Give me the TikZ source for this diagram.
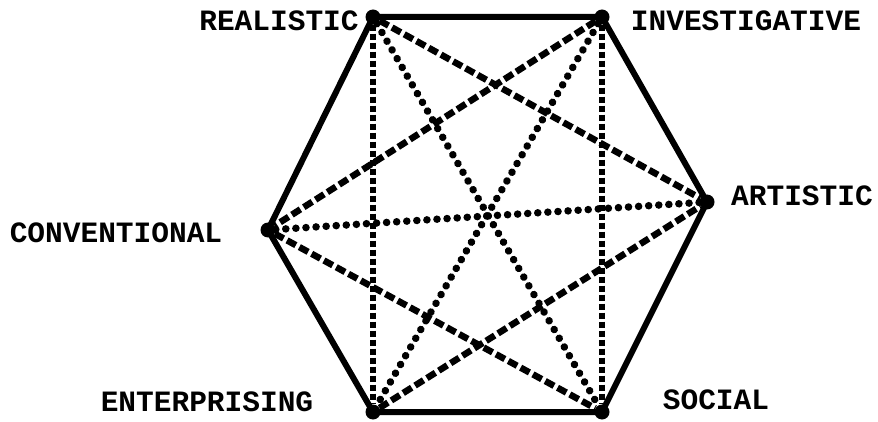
\documentclass[tikz,border=0pt]{standalone}
\usepackage{fontspec}
\setmonofont{Liberation Mono}
\begin{document}
\begin{tikzpicture}[
  x=1pt, y=-1pt,
  vtx/.style={circle, fill, minimum size=15pt, inner sep=0pt},
  lbl/.style={font=\ttfamily\bfseries\fontsize{29.5}{31}\selectfont, inner sep=0pt},
  side/.style={line width=6pt},
  nearpair/.style={line width=6.5pt, dash pattern=on 10pt off 4pt},
  upright/.style={line width=6pt, dash pattern=on 6pt off 3pt},
  farpair/.style={line width=7.5pt, dash pattern=on 0.1pt off 10pt, line cap=round}
]
  \useasboundingbox (0,0) rectangle (878,422);

  \node[vtx] (R) at (373, 17) {};
  \node[vtx] (I) at (602, 17) {};
  \node[vtx] (A) at (707, 202) {};
  \node[vtx] (S) at (602, 412) {};
  \node[vtx] (E) at (373, 412) {};
  \node[vtx] (C) at (268, 230) {};

  \node[lbl] (lR) at (279, 21) {REALISTIC};
  \node[lbl] (lI) at (746, 21) {INVESTIGATIVE};
  \node[lbl] (lA) at (802, 196) {ARTISTIC};
  \node[lbl] (lC) at (116, 233) {CONVENTIONAL};
  \node[lbl] (lE) at (207, 402) {ENTERPRISING};
  \node[lbl] (lS) at (716, 400) {SOCIAL};

  % hexagon
  \draw[side, line join=round] (R.center) -- (I.center) -- (A.center) -- (S.center)
    -- (E.center) -- (C.center) -- cycle;

  % short diagonals
  \foreach \a/\b in {R/A, I/C, C/S, E/A}
    \draw[nearpair] (\a) -- (\b);
  \foreach \a/\b in {R/E, I/S}
    \draw[upright] (\a) -- (\b);

  % long diagonals
  \foreach \a/\b in {R/S, I/E, C/A}
    \draw[farpair] (\a) -- (\b);
\end{tikzpicture}
\end{document}
